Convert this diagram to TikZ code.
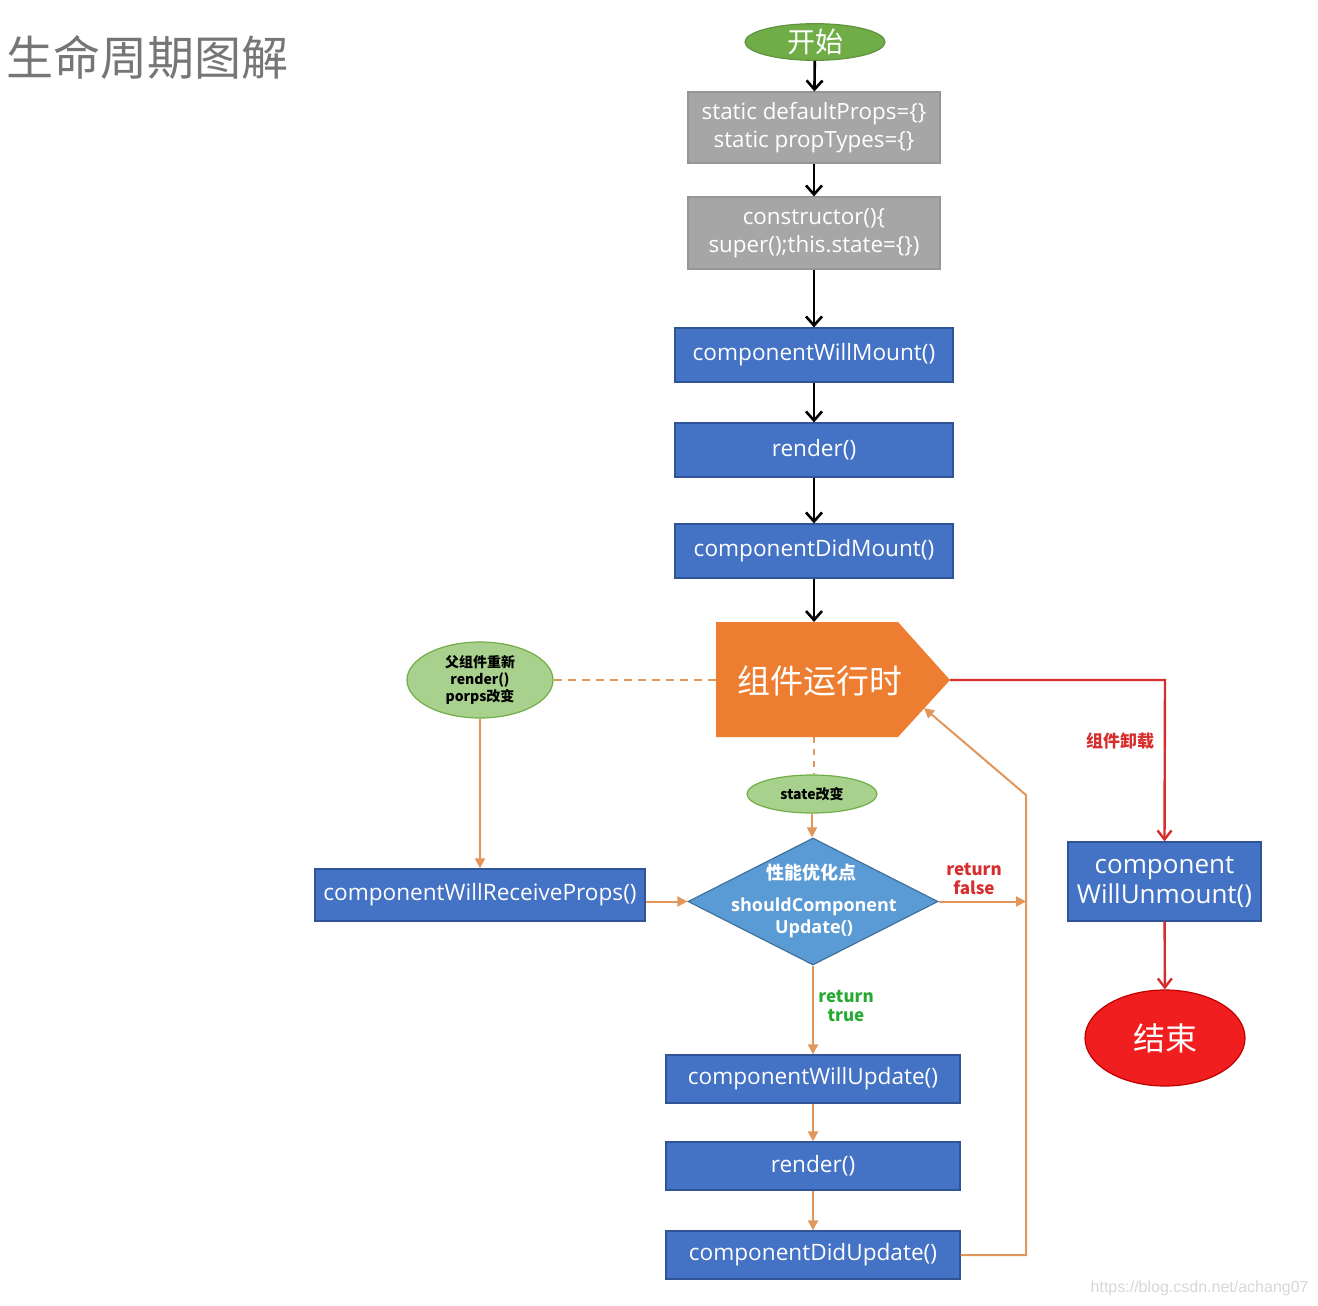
\documentclass[tikz,border=0pt]{standalone}
\usepackage{fontspec}
\setmainfont{Open Sans}
\newfontfamily\cjk{Noto Sans CJK SC}
\newfontfamily\wm{Liberation Sans}
\usetikzlibrary{arrows.meta,shapes.geometric}
\definecolor{bluef}{RGB}{68,114,196}
\definecolor{blued}{RGB}{47,85,151}
\definecolor{diaf}{RGB}{91,155,213}
\definecolor{diad}{RGB}{65,113,156}
\definecolor{grayf}{RGB}{166,166,166}
\definecolor{grayd}{RGB}{150,150,150}
\definecolor{orf}{RGB}{237,125,49}
\definecolor{orl}{RGB}{226,150,90}
\definecolor{grn}{RGB}{112,173,71}
\definecolor{lgrn}{RGB}{169,209,142}
\definecolor{redf}{RGB}{240,30,30}
\definecolor{redd}{RGB}{192,0,0}
\definecolor{redl}{RGB}{215,45,45}
\definecolor{tgreen}{RGB}{40,170,50}
\tikzset{
  graybox/.style={rectangle,draw=grayd,fill=grayf,line width=0.6pt,text=white,align=center,font=\fontsize{11.2}{14}\selectfont,minimum width=126pt,inner sep=0pt},
  bluebox/.style={rectangle,draw=blued,fill=bluef,line width=0.6pt,text=white,align=center,font=\fontsize{11.3}{14}\selectfont,inner sep=0pt},
  blk/.style={line width=1.3pt,-{Straight Barb[length=4.5pt,width=8pt,line width=1.3pt]}},
  orarr/.style={draw=orl,line width=1pt,-{Triangle[length=5pt,width=5pt]},color=orl},
  redarr/.style={draw=redl,line width=1.2pt,-{Straight Barb[length=4.5pt,width=7pt,line width=1.2pt]}},
  lbl/.style={font=\cjk\bfseries\fontsize{8.5}{9.5}\selectfont,align=center,inner sep=0pt},
}
\begin{document}
\begin{tikzpicture}[x=0.5pt,y=-0.5pt]
\useasboundingbox (0,0) rectangle (1318,1306);
% title
\node[anchor=west,inner sep=0pt,text={rgb,255:red,118;green,118;blue,118},font=\cjk\fontsize{23.5}{26}\selectfont] (title) at (6,57) {生命周期图解};
% start
\node[ellipse,fill=grn,draw=grn!85!black,line width=0.6pt,minimum width=70pt,minimum height=18pt,inner sep=0pt,text=white,font=\cjk\fontsize{14}{15}\selectfont] (start) at (815,42) {开始};
\node[graybox,minimum height=35.5pt] (g1) at (814,127.5) {static defaultProps=\{\}\\static propTypes=\{\}};
\node[graybox,minimum height=36pt] (g2) at (814,233) {constructor()\{\\super();this.state=\{\})};
\node[bluebox,minimum width=139pt,minimum height=27pt] (b1) at (814,355) {componentWillMount()};
\node[bluebox,minimum width=139pt,minimum height=27pt] (b2) at (814,450) {render()};
\node[bluebox,minimum width=139pt,minimum height=27pt] (b3) at (814,551) {componentDidMount()};
% running pentagon
\coordinate (rNW) at (716,622);
\coordinate (rNE) at (898,622);
\coordinate (rTip) at (950,680);
\coordinate (rSE) at (898,737);
\coordinate (rSW) at (716,737);
\coordinate (rW) at (716,680);
\coordinate (rN) at (814,622);
\coordinate (rS) at (814,737);
\coordinate (rEdge) at (924,708);
\fill[orf] (rNW) -- (rNE) -- (rTip) -- (rSE) -- (rSW) -- cycle;
\node[text=white,font=\cjk\fontsize{16.5}{18}\selectfont,inner sep=0pt] (run) at (820,681) {组件运行时};
% parent ellipse
\node[ellipse,fill=lgrn,draw=grn,line width=0.6pt,minimum width=73pt,minimum height=38pt,inner sep=0pt,align=center,font=\cjk\bfseries\fontsize{7}{8.5}\selectfont] (par) at (480,680) {父组件重新\\render()\\porps改变};
% state ellipse
\node[ellipse,fill=lgrn,draw=grn,line width=0.6pt,minimum width=65pt,minimum height=19pt,inner sep=0pt,font=\cjk\bfseries\fontsize{7}{8}\selectfont] (st) at (812,794) {state改变};
% diamond
\node[diamond,fill=diaf,draw=diad,line width=0.6pt,minimum width=125pt,minimum height=63.5pt,inner sep=0pt] (scu) at (813,901.5) {};
\node[text=white,font=\cjk\bfseries\fontsize{9}{10}\selectfont,inner sep=0pt] (scut) at (811,873) {性能优化点};
\node[text=white,font=\bfseries\fontsize{9}{11}\selectfont,inner sep=0pt,align=center] (scub) at (814,918) {shouldComponent\\Update()};
% left box
\node[bluebox,minimum width=165pt,minimum height=26pt] (rp) at (480,895) {componentWillReceiveProps()};
% update chain
\node[bluebox,minimum width=147pt,minimum height=24pt] (wu) at (813,1079) {componentWillUpdate()};
\node[bluebox,minimum width=147pt,minimum height=24pt] (r2) at (813,1166) {render()};
\node[bluebox,minimum width=147pt,minimum height=24pt] (du) at (813,1255) {componentDidUpdate()};
% unmount
\node[bluebox,minimum width=96.5pt,minimum height=39.5pt,font=\fontsize{13}{15}\selectfont] (um) at (1164.5,881.5) {component\\WillUnmount()};
\node[ellipse,fill=redf,draw=redd,line width=0.6pt,minimum width=80pt,minimum height=48pt,inner sep=0pt,text=white,font=\cjk\fontsize{16}{18}\selectfont] (end) at (1165,1038) {结束};
% black arrows
\draw[blk] (start) -- (g1);
\draw[blk] (g1) -- (g2);
\draw[blk] (g2) -- (b1);
\draw[blk] (b1) -- (b2);
\draw[blk] (b2) -- (b3);
\draw[blk] (b3) -- (rN);
% dashed
\draw[orl,line width=0.8pt,dash pattern=on 4pt off 3pt] (par.east) -- (rW);
\draw[orl,line width=0.8pt,dash pattern=on 3pt off 3pt] (rS) -- (rS |- st.north);
% orange arrows
\draw[orarr] (st) -- (st |- scu.north);
\draw[orarr] (par) -- (rp);
\draw[orarr] (rp.east |- scu.west) -- (scu.west);
\coordinate (rf) at (1026,901.5);
\draw[orarr] (scu.east) -- (rf);
\node[lbl,text=redl] (rfl) at (974,879) {return\\false};
\draw[orarr] (scu.south) -- (wu);
\node[lbl,text=tgreen] (rtl) at (846,1006) {return\\true};
\draw[orarr] (wu) -- (r2);
\draw[orarr] (r2) -- (du);
\draw[orarr] (du.east) -- (1026,1255) -- (1026,795) -- (rEdge);
% red unmount
\draw[redarr] (rTip) -- (1165,680) -- (um.north);
\node[lbl,text=redl,font=\cjk\bfseries\fontsize{8.5}{9.5}\selectfont] (uml) at (1120,741) {组件卸载};
\draw[redarr] (um) -- (end);
% watermark
\node[anchor=east,inner sep=0pt,text={rgb,255:red,215;green,215;blue,215},font=\wm\fontsize{8}{9}\selectfont] (wmk) at (1309,1288) {https://blog.csdn.net/achang07};
\end{tikzpicture}
\end{document}
